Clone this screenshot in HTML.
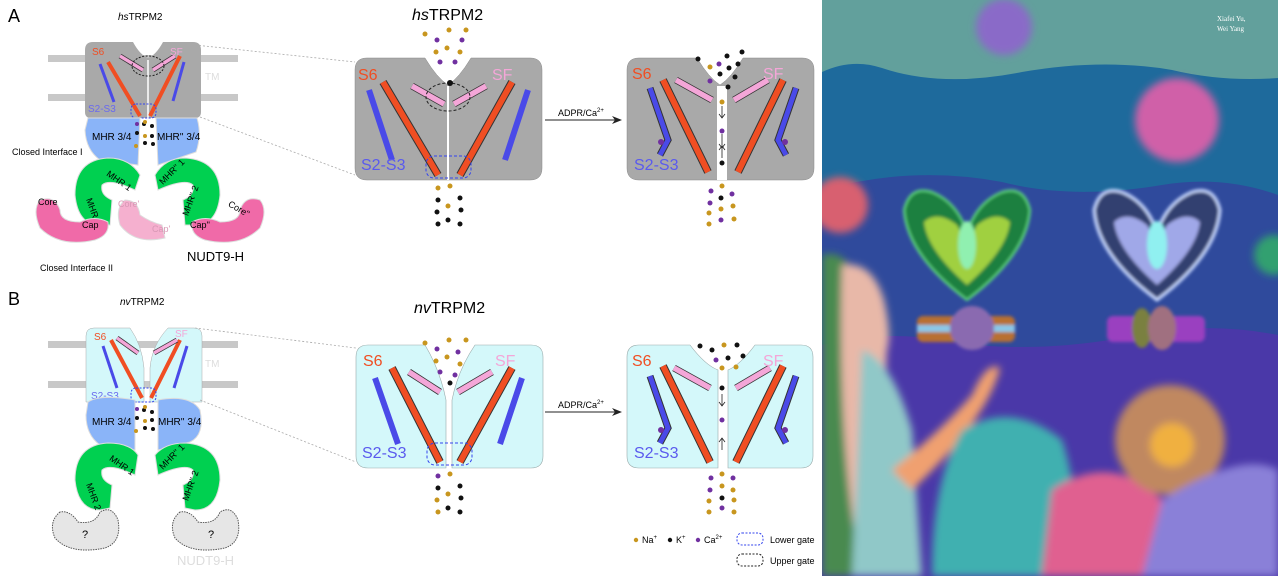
<!DOCTYPE html>
<html><head><meta charset="utf-8"><style>
html,body{margin:0;padding:0;background:#fff}
svg{display:block;font-family:"Liberation Sans",sans-serif}
</style></head><body>
<svg width="1278" height="576" viewBox="0 0 1278 576" xmlns="http://www.w3.org/2000/svg">
<defs>
<filter id="b4" x="-30%" y="-30%" width="160%" height="160%"><feGaussianBlur stdDeviation="4"/></filter>
<filter id="b2" x="-30%" y="-30%" width="160%" height="160%"><feGaussianBlur stdDeviation="1.5"/></filter>
<g id="chanA">
  <path d="M0,12 Q0,0 12,0 L70,0 Q82,20 93,27 Q104,20 116,0 L175,0 Q187,0 187,12 L187,110 Q187,122 175,122 L12,122 Q0,122 0,110 Z"/>
</g>
</defs>

<!-- ============ PANEL A LEFT ============ -->
<text x="8" y="22" font-size="18">A</text>
<text x="118" y="20" font-size="10"><tspan font-style="italic">hs</tspan>TRPM2</text>
<rect x="48" y="55" width="190" height="7" fill="#c8c8c8"/>
<rect x="48" y="94" width="190" height="7" fill="#c8c8c8"/>
<path d="M85,50 Q85,42 93,42 L133,42 Q140,55 148,58 Q156,55 163,42 L193,42 Q201,42 201,50 L201,112 Q201,118 195,118 L91,118 Q85,118 85,112Z" fill="#a9a9a9"/>
<line x1="148" y1="60" x2="148" y2="118" stroke="#fff" stroke-width="1.5"/>
<line x1="108" y1="62" x2="140" y2="116" stroke="#f04e23" stroke-width="4"/>
<line x1="180" y1="56" x2="150" y2="116" stroke="#f04e23" stroke-width="4"/>
<line x1="100" y1="64" x2="114" y2="102" stroke="#4a4ae8" stroke-width="3"/>
<line x1="184" y1="62" x2="173" y2="101" stroke="#4a4ae8" stroke-width="3"/>
<line x1="120" y1="56" x2="143" y2="70" stroke="#333" stroke-width="5"/><line x1="120" y1="56" x2="143" y2="70" stroke="#f4a6d8" stroke-width="3.5"/>
<line x1="175" y1="56" x2="153" y2="70" stroke="#333" stroke-width="5"/><line x1="175" y1="56" x2="153" y2="70" stroke="#f4a6d8" stroke-width="3.5"/>
<ellipse cx="148" cy="66" rx="16" ry="10" fill="none" stroke="#222" stroke-dasharray="2,1.5"/>
<rect x="131" y="104" width="25" height="14" rx="5" fill="none" stroke="#3344ee" stroke-dasharray="2,1.5"/>
<text x="92" y="55" font-size="10" fill="#f04e23">S6</text>
<text x="170" y="55" font-size="10" fill="#f4a6d8">SF</text>
<text x="205" y="80" font-size="10" fill="#ddd">TM</text>
<text x="88" y="112" font-size="10" fill="#6a6aee">S2-S3</text>
<path d="M88,118 L140,118 L138,165 L100,160 Q86,150 85,130Z" fill="#8ab4f8" stroke="#ddd"/>
<path d="M156,118 L197,118 Q202,135 196,152 L158,165Z" fill="#8ab4f8" stroke="#ddd"/>
<text x="92" y="140" font-size="10">MHR 3/4</text>
<text x="157" y="140" font-size="10">MHR'' 3/4</text>
<g fill="#111"><circle cx="144" cy="124" r="2"/><circle cx="152" cy="126" r="2"/><circle cx="137" cy="133" r="2"/><circle cx="152" cy="136" r="2"/><circle cx="145" cy="143" r="2"/><circle cx="153" cy="144" r="2"/></g>
<g fill="#c8961e"><circle cx="145" cy="122" r="2"/><circle cx="145" cy="136" r="2"/><circle cx="136" cy="146" r="2"/></g>
<circle cx="137" cy="124" r="2" fill="#7030a0"/>
<text x="12" y="155" font-size="9">Closed Interface I</text>
<path d="M108,158 Q75,160 75,195 Q78,225 100,225 L110,225 L112,200 Q100,195 102,185 Q110,178 135,190 L140,175 Q130,158 108,158Z" fill="#00d050" stroke="#ddd"/>
<path d="M185,158 Q220,160 220,195 Q217,225 195,225 L185,225 L183,200 Q195,195 193,185 Q185,178 158,190 L155,175 Q165,158 185,158Z" fill="#00d050" stroke="#ddd"/>
<text x="105" y="178" font-size="9" transform="rotate(35 110 178)">MHR 1</text>
<text x="82" y="205" font-size="9" transform="rotate(70 88 205)">MHR 2</text>
<text x="160" y="182" font-size="9" transform="rotate(-45 165 180)">MHR'' 1</text>
<text x="180" y="215" font-size="9" transform="rotate(-70 185 210)">MHR'' 2</text>
<path d="M40,200 Q32,210 40,228 Q60,248 95,240 Q110,235 108,222 Q95,215 80,222 Q60,222 60,210 Q55,195 40,200Z" fill="#f06aa8" stroke="#ddd"/>
<path d="M125,200 Q115,208 120,225 Q135,245 165,238 L162,225 Q150,222 140,215 Q138,200 125,200Z" fill="#f5b0cf" stroke="#ddd"/>
<path d="M260,200 Q268,210 260,228 Q240,248 205,240 Q190,235 192,222 Q205,215 220,222 Q240,222 240,210 Q245,195 260,200Z" fill="#f06aa8" stroke="#ddd"/>
<text x="38" y="205" font-size="9">Core</text><text x="82" y="228" font-size="9">Cap</text>
<text x="118" y="207" font-size="9" fill="#d898b5">Core'</text><text x="152" y="232" font-size="9" fill="#d898b5">Cap'</text>
<text x="228" y="208" font-size="9" transform="rotate(30 232 206)">Core''</text><text x="190" y="228" font-size="9">Cap''</text>
<text x="40" y="271" font-size="9">Closed Interface II</text>
<text x="187" y="261" font-size="13">NUDT9-H</text>

<!-- ============ PANEL B LEFT ============ -->
<text x="8" y="305" font-size="18">B</text>
<text x="120" y="305" font-size="10"><tspan font-style="italic">nv</tspan>TRPM2</text>
<rect x="48" y="341" width="190" height="7" fill="#c8c8c8"/>
<rect x="48" y="381" width="190" height="7" fill="#c8c8c8"/>
<path d="M86,336 Q86,328 94,328 L130,328 Q142,345 144,368 L144,402 L86,402Z" fill="#d4f8fa" stroke="#aaa" stroke-width=".5"/>
<path d="M202,336 Q202,328 194,328 L168,328 Q152,345 150,368 L150,402 L202,402Z" fill="#d4f8fa" stroke="#aaa" stroke-width=".5"/>
<line x1="111" y1="340" x2="142" y2="398" stroke="#f04e23" stroke-width="4"/>
<line x1="180" y1="340" x2="151" y2="398" stroke="#f04e23" stroke-width="4"/>
<line x1="103" y1="346" x2="117" y2="388" stroke="#4a4ae8" stroke-width="3"/>
<line x1="187" y1="346" x2="174" y2="388" stroke="#4a4ae8" stroke-width="3"/>
<line x1="117" y1="338" x2="138" y2="353" stroke="#333" stroke-width="5"/><line x1="117" y1="338" x2="138" y2="353" stroke="#f4a6d8" stroke-width="3.5"/>
<line x1="177" y1="340" x2="154" y2="353" stroke="#333" stroke-width="5"/><line x1="177" y1="340" x2="154" y2="353" stroke="#f4a6d8" stroke-width="3.5"/>
<rect x="131" y="388" width="25" height="14" rx="5" fill="none" stroke="#3344ee" stroke-dasharray="2,1.5"/>
<text x="94" y="340" font-size="10" fill="#f04e23">S6</text>
<text x="175" y="337" font-size="10" fill="#f4a6d8">SF</text>
<text x="205" y="367" font-size="10" fill="#ddd">TM</text>
<text x="91" y="399" font-size="10" fill="#6a6aee">S2-S3</text>
<path d="M88,402 Q100,394 135,400 L135,450 L100,445 Q86,435 86,415Z" fill="#8ab4f8" stroke="#ddd"/>
<path d="M158,400 Q190,394 200,410 Q205,435 190,442 L158,450Z" fill="#8ab4f8" stroke="#ddd"/>
<text x="92" y="425" font-size="10">MHR 3/4</text>
<text x="158" y="425" font-size="10">MHR'' 3/4</text>
<g fill="#111"><circle cx="144" cy="410" r="2"/><circle cx="152" cy="412" r="2"/><circle cx="137" cy="418" r="2"/><circle cx="152" cy="420" r="2"/><circle cx="145" cy="428" r="2"/><circle cx="153" cy="429" r="2"/></g>
<g fill="#c8961e"><circle cx="145" cy="407" r="2"/><circle cx="145" cy="421" r="2"/><circle cx="136" cy="431" r="2"/></g>
<circle cx="137" cy="409" r="2" fill="#7030a0"/>
<path d="M108,443 Q75,445 75,480 Q78,510 100,510 L110,508 L112,485 Q100,480 102,470 Q110,463 135,475 L138,455 Q130,443 108,443Z" fill="#00d050" stroke="#ddd"/>
<path d="M185,443 Q220,445 220,480 Q217,510 195,510 L185,508 L183,485 Q195,480 193,470 Q185,463 158,475 L155,455 Q165,443 185,443Z" fill="#00d050" stroke="#ddd"/>
<text x="108" y="462" font-size="9" transform="rotate(35 112 462)">MHR 1</text>
<text x="82" y="490" font-size="9" transform="rotate(70 88 490)">MHR 2</text>
<text x="160" y="467" font-size="9" transform="rotate(-45 165 465)">MHR'' 1</text>
<text x="180" y="500" font-size="9" transform="rotate(-70 185 495)">MHR'' 2</text>
<path d="M60,512 Q48,522 55,538 Q70,555 105,548 Q122,542 118,520 Q112,505 100,512 Q95,525 78,522 Q70,510 60,512Z" fill="#e6e6e6" stroke="#555" stroke-dasharray="1.5,1"/>
<path d="M180,512 Q168,522 175,538 Q190,555 225,548 Q242,542 238,520 Q232,505 220,512 Q215,525 198,522 Q190,510 180,512Z" fill="#e6e6e6" stroke="#555" stroke-dasharray="1.5,1"/>
<text x="82" y="538" font-size="11">?</text><text x="208" y="538" font-size="11">?</text>
<text x="177" y="565" font-size="13" fill="#ddd">NUDT9-H</text>

<g stroke="#aaa" stroke-dasharray="2,2" stroke-width=".8">
<line x1="195" y1="45" x2="355" y2="62"/><line x1="200" y1="117" x2="355" y2="175"/>
<line x1="195" y1="328" x2="356" y2="348"/><line x1="200" y1="400" x2="356" y2="462"/>
</g>

<!-- ============ A middle ============ -->
<text x="412" y="20" font-size="16"><tspan font-style="italic">hs</tspan>TRPM2</text>
<use href="#chanA" x="355" y="58" fill="#a9a9a9" stroke="#888" stroke-width=".5"/>
<line x1="448" y1="86" x2="448" y2="180" stroke="#fff" stroke-width="2"/>
<line x1="383" y1="82" x2="438" y2="175" stroke="#333" stroke-width="8"/><line x1="383" y1="82" x2="438" y2="175" stroke="#f04e23" stroke-width="6"/>
<line x1="512" y1="82" x2="460" y2="175" stroke="#333" stroke-width="8"/><line x1="512" y1="82" x2="460" y2="175" stroke="#f04e23" stroke-width="6"/>
<line x1="369" y1="90" x2="392" y2="160" stroke="#4a4ae8" stroke-width="6"/>
<line x1="528" y1="90" x2="505" y2="160" stroke="#4a4ae8" stroke-width="6"/>
<line x1="412" y1="86" x2="444" y2="104" stroke="#333" stroke-width="7"/><line x1="412" y1="86" x2="444" y2="104" stroke="#f4a6d8" stroke-width="5.5"/>
<line x1="486" y1="86" x2="454" y2="104" stroke="#333" stroke-width="7"/><line x1="486" y1="86" x2="454" y2="104" stroke="#f4a6d8" stroke-width="5.5"/>
<ellipse cx="448" cy="97" rx="22" ry="14" fill="none" stroke="#222" stroke-dasharray="3,2"/>
<rect x="426" y="156" width="45" height="22" rx="8" fill="none" stroke="#3344ee" stroke-dasharray="3,2"/>
<text x="358" y="80" font-size="16" fill="#f04e23">S6</text>
<text x="492" y="80" font-size="16" fill="#f4a6d8">SF</text>
<text x="361" y="170" font-size="16" fill="#5a5aee">S2-S3</text>
<g>
<circle cx="425" cy="34" r="2.5" fill="#c8961e"/><circle cx="437" cy="40" r="2.5" fill="#7030a0"/><circle cx="449" cy="30" r="2.5" fill="#c8961e"/><circle cx="462" cy="40" r="2.5" fill="#7030a0"/><circle cx="466" cy="30" r="2.5" fill="#c8961e"/>
<circle cx="436" cy="52" r="2.5" fill="#c8961e"/><circle cx="447" cy="48" r="2.5" fill="#c8961e"/><circle cx="460" cy="52" r="2.5" fill="#c8961e"/><circle cx="440" cy="62" r="2.5" fill="#7030a0"/><circle cx="455" cy="62" r="2.5" fill="#7030a0"/><circle cx="450" cy="83" r="3" fill="#111"/>
<circle cx="438" cy="188" r="2.5" fill="#c8961e"/><circle cx="450" cy="186" r="2.5" fill="#c8961e"/><circle cx="438" cy="200" r="2.5" fill="#111"/><circle cx="460" cy="198" r="2.5" fill="#111"/><circle cx="448" cy="206" r="2.5" fill="#c8961e"/><circle cx="437" cy="212" r="2.5" fill="#111"/><circle cx="461" cy="210" r="2.5" fill="#111"/><circle cx="438" cy="224" r="2.5" fill="#111"/><circle cx="448" cy="220" r="2.5" fill="#111"/><circle cx="460" cy="224" r="2.5" fill="#111"/>
</g>
<line x1="545" y1="120" x2="615" y2="120" stroke="#222"/><path d="M622,120 L612,116 L615,120 L612,124Z" fill="#222"/>
<text x="558" y="116" font-size="9">ADPR/Ca<tspan font-size="6" dy="-4">2+</tspan></text>

<!-- A right -->
<use href="#chanA" x="627" y="58" fill="#a9a9a9" stroke="#888" stroke-width=".5"/>
<rect x="717" y="86" width="10" height="94" fill="#fff"/>
<line x1="663" y1="80" x2="708" y2="172" stroke="#333" stroke-width="8"/><line x1="663" y1="80" x2="708" y2="172" stroke="#f04e23" stroke-width="6"/>
<line x1="783" y1="80" x2="738" y2="172" stroke="#333" stroke-width="8"/><line x1="783" y1="80" x2="738" y2="172" stroke="#f04e23" stroke-width="6"/>
<polyline points="650,88 668,140 660,155" fill="none" stroke="#333" stroke-width="7"/><polyline points="650,88 668,140 660,155" fill="none" stroke="#4a4ae8" stroke-width="5"/>
<polyline points="796,88 778,140 786,155" fill="none" stroke="#333" stroke-width="7"/><polyline points="796,88 778,140 786,155" fill="none" stroke="#4a4ae8" stroke-width="5"/>
<line x1="676" y1="80" x2="712" y2="100" stroke="#333" stroke-width="7"/><line x1="676" y1="80" x2="712" y2="100" stroke="#f4a6d8" stroke-width="5.5"/>
<line x1="768" y1="80" x2="734" y2="100" stroke="#333" stroke-width="7"/><line x1="768" y1="80" x2="734" y2="100" stroke="#f4a6d8" stroke-width="5.5"/>
<circle cx="661" cy="142" r="3" fill="#7030a0"/><circle cx="785" cy="142" r="3" fill="#7030a0"/>
<text x="632" y="79" font-size="16" fill="#f04e23">S6</text>
<text x="763" y="79" font-size="16" fill="#f4a6d8">SF</text>
<text x="634" y="170" font-size="16" fill="#5a5aee">S2-S3</text>
<g>
<circle cx="698" cy="59" r="2.5" fill="#111"/><circle cx="710" cy="67" r="2.5" fill="#c8961e"/><circle cx="719" cy="64" r="2.5" fill="#7030a0"/><circle cx="727" cy="56" r="2.5" fill="#111"/><circle cx="742" cy="52" r="2.5" fill="#111"/><circle cx="729" cy="68" r="2.5" fill="#111"/><circle cx="738" cy="64" r="2.5" fill="#111"/><circle cx="720" cy="74" r="2.5" fill="#111"/><circle cx="710" cy="81" r="2.5" fill="#7030a0"/><circle cx="735" cy="77" r="2.5" fill="#111"/><circle cx="728" cy="87" r="2.5" fill="#111"/>
<circle cx="722" cy="102" r="2.5" fill="#c8961e"/><circle cx="722" cy="131" r="2.5" fill="#7030a0"/><circle cx="722" cy="163" r="2.5" fill="#111"/>
<circle cx="722" cy="186" r="2.5" fill="#c8961e"/><circle cx="711" cy="191" r="2.5" fill="#7030a0"/><circle cx="721" cy="198" r="2.5" fill="#111"/><circle cx="732" cy="194" r="2.5" fill="#7030a0"/><circle cx="710" cy="203" r="2.5" fill="#7030a0"/><circle cx="733" cy="206" r="2.5" fill="#c8961e"/><circle cx="709" cy="213" r="2.5" fill="#c8961e"/><circle cx="721" cy="209" r="2.5" fill="#c8961e"/><circle cx="709" cy="224" r="2.5" fill="#c8961e"/><circle cx="721" cy="220" r="2.5" fill="#7030a0"/><circle cx="734" cy="219" r="2.5" fill="#c8961e"/>
</g>
<g stroke="#222" fill="none" stroke-width=".8"><path d="M722,106 V118 M719,114 L722,118 L725,114"/><path d="M722,134 V148 M719,144 L722,148 L725,144"/><path d="M722,158 V146 M719,150 L722,146 L725,150"/></g>

<!-- ============ B middle ============ -->
<text x="414" y="313" font-size="16"><tspan font-style="italic">nv</tspan>TRPM2</text>
<path d="M356,357 Q356,345 368,345 L425,345 Q440,370 446,400 L446,468 L368,468 Q356,468 356,456Z" fill="#d4f8fa" stroke="#9aa" stroke-width=".6"/>
<path d="M543,357 Q543,345 531,345 L475,345 Q458,370 452,400 L452,468 L531,468 Q543,468 543,456Z" fill="#d4f8fa" stroke="#9aa" stroke-width=".6"/>
<line x1="392" y1="368" x2="440" y2="462" stroke="#333" stroke-width="8"/><line x1="392" y1="368" x2="440" y2="462" stroke="#f04e23" stroke-width="6"/>
<line x1="512" y1="368" x2="460" y2="462" stroke="#333" stroke-width="8"/><line x1="512" y1="368" x2="460" y2="462" stroke="#f04e23" stroke-width="6"/>
<line x1="375" y1="378" x2="398" y2="444" stroke="#4a4ae8" stroke-width="6"/>
<line x1="522" y1="378" x2="500" y2="444" stroke="#4a4ae8" stroke-width="6"/>
<line x1="409" y1="372" x2="440" y2="392" stroke="#333" stroke-width="7"/><line x1="409" y1="372" x2="440" y2="392" stroke="#f4a6d8" stroke-width="5.5"/>
<line x1="492" y1="372" x2="458" y2="392" stroke="#333" stroke-width="7"/><line x1="492" y1="372" x2="458" y2="392" stroke="#f4a6d8" stroke-width="5.5"/>
<rect x="427" y="443" width="45" height="22" rx="8" fill="none" stroke="#3344ee" stroke-dasharray="3,2"/>
<text x="363" y="366" font-size="16" fill="#f04e23">S6</text>
<text x="495" y="366" font-size="16" fill="#f4a6d8">SF</text>
<text x="362" y="458" font-size="16" fill="#5a5aee">S2-S3</text>
<g>
<circle cx="425" cy="343" r="2.5" fill="#c8961e"/><circle cx="437" cy="349" r="2.5" fill="#7030a0"/><circle cx="449" cy="340" r="2.5" fill="#c8961e"/><circle cx="458" cy="352" r="2.5" fill="#7030a0"/><circle cx="466" cy="340" r="2.5" fill="#c8961e"/>
<circle cx="436" cy="361" r="2.5" fill="#c8961e"/><circle cx="447" cy="357" r="2.5" fill="#c8961e"/><circle cx="460" cy="364" r="2.5" fill="#c8961e"/><circle cx="440" cy="372" r="2.5" fill="#7030a0"/><circle cx="455" cy="375" r="2.5" fill="#7030a0"/><circle cx="450" cy="383" r="2.5" fill="#111"/>
<circle cx="438" cy="476" r="2.5" fill="#7030a0"/><circle cx="450" cy="474" r="2.5" fill="#c8961e"/><circle cx="438" cy="488" r="2.5" fill="#111"/><circle cx="460" cy="486" r="2.5" fill="#111"/><circle cx="448" cy="494" r="2.5" fill="#c8961e"/><circle cx="437" cy="500" r="2.5" fill="#c8961e"/><circle cx="461" cy="498" r="2.5" fill="#111"/><circle cx="438" cy="512" r="2.5" fill="#c8961e"/><circle cx="448" cy="508" r="2.5" fill="#111"/><circle cx="460" cy="512" r="2.5" fill="#111"/>
</g>
<line x1="545" y1="412" x2="615" y2="412" stroke="#222"/><path d="M622,412 L612,408 L615,412 L612,416Z" fill="#222"/>
<text x="558" y="408" font-size="9">ADPR/Ca<tspan font-size="6" dy="-4">2+</tspan></text>

<!-- B right -->
<path d="M627,357 Q627,345 639,345 L690,345 Q705,365 718,370 L718,468 L639,468 Q627,468 627,456Z" fill="#d4f8fa" stroke="#9aa" stroke-width=".6"/>
<path d="M813,357 Q813,345 801,345 L755,345 Q740,365 728,370 L728,468 L801,468 Q813,468 813,456Z" fill="#d4f8fa" stroke="#9aa" stroke-width=".6"/>
<line x1="663" y1="366" x2="710" y2="462" stroke="#333" stroke-width="8"/><line x1="663" y1="366" x2="710" y2="462" stroke="#f04e23" stroke-width="6"/>
<line x1="783" y1="366" x2="736" y2="462" stroke="#333" stroke-width="8"/><line x1="783" y1="366" x2="736" y2="462" stroke="#f04e23" stroke-width="6"/>
<polyline points="650,376 668,428 660,443" fill="none" stroke="#333" stroke-width="7"/><polyline points="650,376 668,428 660,443" fill="none" stroke="#4a4ae8" stroke-width="5"/>
<polyline points="796,376 778,428 786,443" fill="none" stroke="#333" stroke-width="7"/><polyline points="796,376 778,428 786,443" fill="none" stroke="#4a4ae8" stroke-width="5"/>
<line x1="674" y1="368" x2="710" y2="388" stroke="#333" stroke-width="7"/><line x1="674" y1="368" x2="710" y2="388" stroke="#f4a6d8" stroke-width="5.5"/>
<line x1="770" y1="368" x2="736" y2="388" stroke="#333" stroke-width="7"/><line x1="770" y1="368" x2="736" y2="388" stroke="#f4a6d8" stroke-width="5.5"/>
<circle cx="661" cy="430" r="3" fill="#7030a0"/><circle cx="785" cy="430" r="3" fill="#7030a0"/>
<text x="632" y="366" font-size="16" fill="#f04e23">S6</text>
<text x="763" y="366" font-size="16" fill="#f4a6d8">SF</text>
<text x="634" y="458" font-size="16" fill="#5a5aee">S2-S3</text>
<g>
<circle cx="700" cy="346" r="2.5" fill="#111"/><circle cx="712" cy="350" r="2.5" fill="#111"/><circle cx="724" cy="345" r="2.5" fill="#c8961e"/><circle cx="737" cy="345" r="2.5" fill="#111"/><circle cx="743" cy="356" r="2.5" fill="#111"/><circle cx="716" cy="360" r="2.5" fill="#7030a0"/><circle cx="728" cy="358" r="2.5" fill="#111"/><circle cx="736" cy="367" r="2.5" fill="#c8961e"/><circle cx="722" cy="368" r="2.5" fill="#c8961e"/>
<circle cx="722" cy="388" r="2.5" fill="#111"/><circle cx="722" cy="420" r="2.5" fill="#7030a0"/>
<circle cx="711" cy="478" r="2.5" fill="#7030a0"/><circle cx="722" cy="474" r="2.5" fill="#c8961e"/><circle cx="733" cy="478" r="2.5" fill="#7030a0"/><circle cx="710" cy="490" r="2.5" fill="#7030a0"/><circle cx="722" cy="486" r="2.5" fill="#c8961e"/><circle cx="733" cy="490" r="2.5" fill="#c8961e"/><circle cx="709" cy="501" r="2.5" fill="#c8961e"/><circle cx="722" cy="498" r="2.5" fill="#111"/><circle cx="734" cy="500" r="2.5" fill="#c8961e"/><circle cx="709" cy="512" r="2.5" fill="#c8961e"/><circle cx="722" cy="508" r="2.5" fill="#7030a0"/><circle cx="734" cy="512" r="2.5" fill="#c8961e"/>
</g>
<g stroke="#222" fill="none" stroke-width=".8"><path d="M722,394 V406 M719,402 L722,406 L725,402"/><path d="M722,450 V438 M719,442 L722,438 L725,442"/></g>

<!-- legend -->
<circle cx="636" cy="540" r="2.2" fill="#c8961e"/><text x="642" y="543" font-size="9">Na<tspan font-size="6" dy="-4">+</tspan></text>
<circle cx="670" cy="540" r="2.2" fill="#111"/><text x="676" y="543" font-size="9">K<tspan font-size="6" dy="-4">+</tspan></text>
<circle cx="698" cy="540" r="2.2" fill="#7030a0"/><text x="704" y="543" font-size="9">Ca<tspan font-size="6" dy="-4">2+</tspan></text>
<rect x="737" y="533" width="26" height="12" rx="5" fill="none" stroke="#3344ee" stroke-dasharray="2,1.5"/><text x="770" y="543" font-size="9">Lower gate</text>
<rect x="737" y="554" width="26" height="12" rx="5" fill="none" stroke="#222" stroke-dasharray="2,1.5"/><text x="770" y="564" font-size="9">Upper gate</text>

<!-- ============ PAINTING ============ -->
<svg x="822" y="0" width="456" height="576" viewBox="0 0 456 576">
<rect width="456" height="576" fill="#4a38a8"/>
<path d="M0,0 H456 V335 Q380,320 300,338 Q200,355 120,340 Q60,330 0,345Z" fill="#2f4a9c"/>
<path d="M0,0 H456 V195 Q400,175 340,185 Q250,200 180,182 Q90,165 0,190Z" fill="#1e6a9c"/>
<path d="M0,0 H456 V78 Q400,82 350,70 Q280,58 200,72 Q120,88 60,68 Q30,58 0,72Z" fill="#62a09c"/>
<g filter="url(#b4)">
<circle cx="182" cy="27" r="28" fill="#8a6ac8"/>
<circle cx="355" cy="120" r="42" fill="#d060a8"/>
<circle cx="18" cy="205" r="28" fill="#d86070"/>
<circle cx="452" cy="255" r="20" fill="#30a070"/>
<path d="M0,255 Q20,250 30,270 Q20,400 50,576 H0Z" fill="#4a8a50"/>
<path d="M20,265 Q50,260 62,300 Q70,335 65,350 Q60,400 90,440 Q60,520 70,576 H40 Q15,450 20,265Z" fill="#e8b8a8"/>
<path d="M40,350 Q70,360 90,430 L100,576 H30Z" fill="#90c8c8"/>
<path d="M70,470 Q120,430 150,395 Q165,360 178,368 Q165,420 90,490Z" fill="#f0a070"/>
<path d="M140,430 Q190,400 240,440 Q260,500 250,576 H110 Q110,480 140,430Z" fill="#40b0b0"/>
<path d="M230,490 Q290,450 340,500 L350,576 H220Z" fill="#e06090"/>
<circle cx="348" cy="440" r="55" fill="#c08860"/>
<circle cx="350" cy="445" r="22" fill="#f0b040"/>
<path d="M340,500 Q420,450 456,470 V576 H320Z" fill="#8a80d8"/>
</g>
<g filter="url(#b2)">
<path d="M145,300 Q85,255 82,210 Q88,185 110,192 Q135,202 145,232 Q155,202 180,192 Q202,185 208,210 Q205,255 145,300Z" fill="#1e8040" stroke="#60e080" stroke-width="2"/>
<path d="M145,285 Q105,250 102,222 Q115,210 135,225 L145,245 L155,225 Q175,210 188,222 Q185,250 145,285Z" fill="#a0d040"/>
<ellipse cx="145" cy="245" rx="9" ry="24" fill="#90f0b0"/>
<path d="M335,300 Q275,255 272,210 Q278,185 300,192 Q325,202 335,232 Q345,202 370,192 Q392,185 398,210 Q395,255 335,300Z" fill="#304070" stroke="#c8d8ff" stroke-width="3"/>
<path d="M335,285 Q295,250 292,222 Q305,210 325,225 L335,245 L345,225 Q365,210 378,222 Q375,250 335,285Z" fill="#a0a8e8"/>
<ellipse cx="335" cy="245" rx="10" ry="24" fill="#90f0f0"/>
<rect x="95" y="316" width="98" height="26" rx="6" fill="#b87030"/>
<rect x="95" y="325" width="98" height="7" fill="#8ac8e8"/>
<ellipse cx="150" cy="328" rx="22" ry="22" fill="#8a6ab0"/>
<rect x="285" y="316" width="98" height="26" rx="6" fill="#9a40c0"/>
<ellipse cx="320" cy="328" rx="10" ry="20" fill="#7a8040"/>
<ellipse cx="340" cy="328" rx="14" ry="22" fill="#a07080"/>
</g>
<text x="395" y="21" font-size="7" fill="#fff" font-family="Liberation Serif,serif">Xiafei Yu,</text>
<text x="395" y="31" font-size="7" fill="#fff" font-family="Liberation Serif,serif">Wei Yang</text>
</svg>
</svg>
</body></html>
